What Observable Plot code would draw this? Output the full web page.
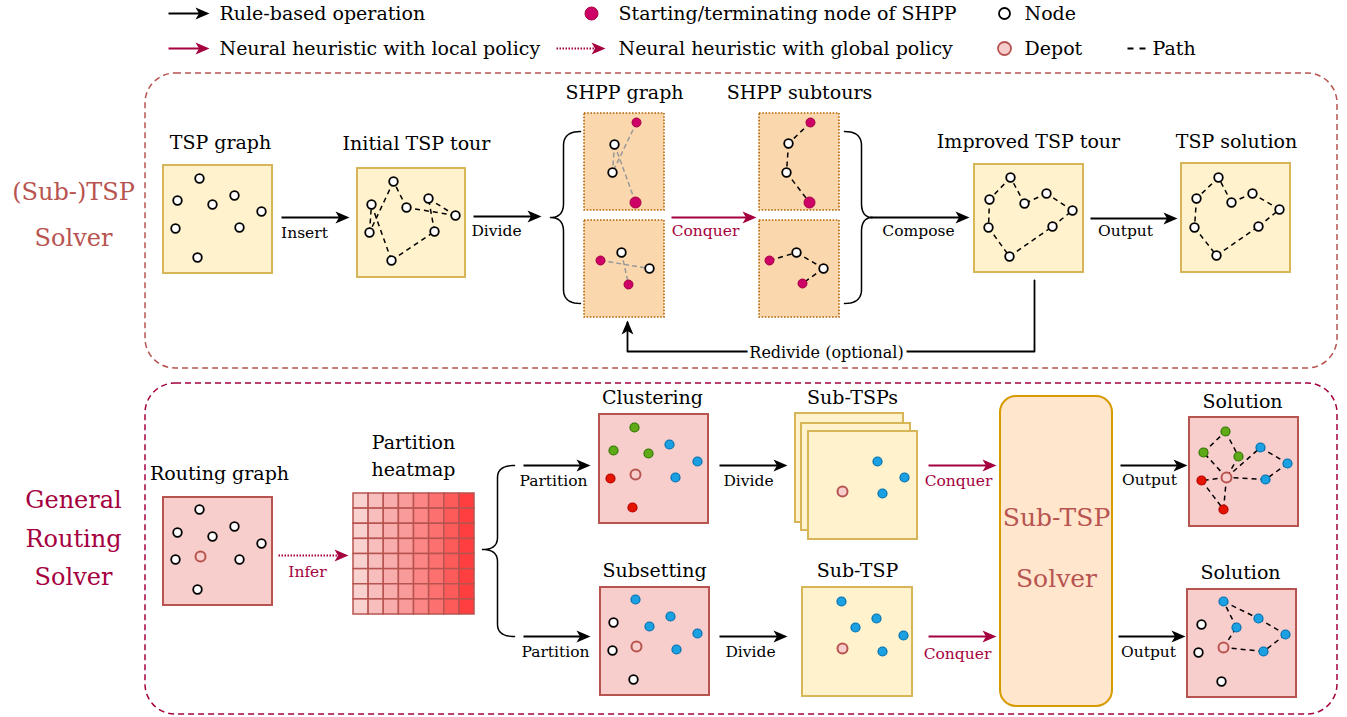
<!DOCTYPE html>
<html><head><meta charset="utf-8">
<script src="https://cdn.jsdelivr.net/npm/d3@7"></script>
<script src="https://cdn.jsdelivr.net/npm/@observablehq/plot@0.6"></script>
<style>body{margin:0;background:#fff}</style>
</head><body><div id="chart"></div>
<script>
const W = 1347, H = 717;
const FONT = "'DejaVu Serif', 'Liberation Serif', serif";
const STYLE = {
  tsp: {fill: "#fff2cc", stroke: "#d6b656"},
  route: {fill: "#f8cecc", stroke: "#b85450"},
  shpp: {fill: "#fad7ac", stroke: "#b46504"},
  crimson: "#a50040", brown: "#b85450",
  node: {fill: "#ffffff", stroke: "#000000"},
  magenta: {fill: "#cc0066", stroke: "#a50040"},
  depot: {fill: "#f8cecc", stroke: "#b85450"},
  green: {fill: "#60a917", stroke: "#2d7600"},
  blue: {fill: "#1ba1e2", stroke: "#006eaf"},
  red: {fill: "#e51400", stroke: "#b20000"}
};

// ---------- data ----------
const frames = [
  {x1: 145, y1: 73, x2: 1337, y2: 368, color: "#b85450"},
  {x1: 145, y1: 383, x2: 1337, y2: 714, color: "#a50040"}
];
const panels = [
  {kind: "tsp", x1: 163, y1: 165, x2: 272, y2: 273},
  {kind: "tsp", x1: 357, y1: 168, x2: 465, y2: 277},
  {kind: "tsp", x1: 974, y1: 164, x2: 1083, y2: 272},
  {kind: "tsp", x1: 1181, y1: 163, x2: 1290, y2: 272},
  {kind: "route", x1: 163, y1: 497, x2: 272, y2: 605},
  {kind: "route", x1: 599, y1: 414, x2: 708, y2: 523},
  {kind: "tsp", x1: 795, y1: 413, x2: 903, y2: 522},
  {kind: "tsp", x1: 801, y1: 423, x2: 910, y2: 530},
  {kind: "tsp", x1: 808, y1: 431, x2: 917, y2: 539},
  {kind: "route", x1: 600, y1: 587, x2: 709, y2: 695},
  {kind: "tsp", x1: 802, y1: 587, x2: 912, y2: 696},
  {kind: "route", x1: 1189, y1: 417, x2: 1298, y2: 526},
  {kind: "route", x1: 1187, y1: 589, x2: 1296, y2: 697}
];
const shppPanels = [
  {x1: 584, y1: 113, x2: 664, y2: 210},
  {x1: 584, y1: 220, x2: 664, y2: 317},
  {x1: 759, y1: 113, x2: 839, y2: 210},
  {x1: 759, y1: 220, x2: 839, y2: 317}
];
const solverBox = {x1: 1000, y1: 396, x2: 1112, y2: 706};

const heatmap = {x1: 353, y1: 493, x2: 474, y2: 614, rows: 8};
const heatColors = ["#f9d2cf", "#f8bebe", "#f8adac", "#f99b9a", "#fb8685", "#fc7170", "#fd5a5a", "#ff3f3f"];

// tours (closed)
const initialTour = [[393,181],[369,232],[371,204],[391,260],[434,231],[428,198],[455,215],[406,207]];
const improvedTour = [[1010,177],[989,199],[988,227],[1009,256],[1052,226],[1072,210],[1046,193],[1024,203]];
const solutionTour = [[1218,177],[1196,198],[1194,227],[1216,255],[1258,226],[1279,209],[1252,193],[1231,202]];
const tspGraphNodes = [[199,178],[177,200],[212,204],[234,195],[261,211],[175,228],[239,227],[197,257]];
// SHPP
const shppGrayEdges = [
  [[636,122],[612,172]], [[614,144],[635,202]], [[614,144],[612,172]],
  [[600,260],[649,268]], [[621,252],[628,284]]
];
const shppGraphWhite = [[614,144],[612,172],[621,252],[649,268]];
const shppGraphMagenta = [[636,122],[628,284],[600,260]];
const shppGraphMagentaBig = [[635,202]];
const shppSubtours = [
  [[810,122],[788,143],[786,172],[809,202]],
  [[769,260],[796,252],[823,268],[802,283]]
];
// routing
const routingNodes = [[199,509],[177,532],[212,536],[234,526],[261,543],[175,559],[239,559],[197,589]];
const routingDepot = [[200,556]];
// clustering
const clusterGreen = [[634,427],[613,450],[648,453]];
const clusterBlue = [[669,444],[697,461],[675,477]];
const clusterRed = [[610,478],[632,507]];
const clusterDepot = [[635,474]];
const subTspsBlue = [[877,461],[904,477],[882,493]];
const subTspsDepot = [[842,491]];
// subsetting
const subsetBlue = [[635,599],[649,626],[670,616],[697,633],[676,649]];
const subsetWhite = [[613,622],[612,650],[633,679]];
const subsetDepot = [[636,646]];
const subTspBlue = [[841,601],[876,618],[855,627],[903,635],[882,651]];
const subTspDepot = [[842,648]];
// solutions
const sol1Green = [[1225,431],[1203,452],[1238,456]];
const sol1Blue = [[1260,447],[1287,463],[1265,479]];
const sol1Red = [[1201,480],[1223,509]];
const sol1Depot = [[1226,477]];
const sol1Routes = [
  [[1226,477],[1203,452],[1225,431],[1238,456],[1226,477]],
  [[1226,477],[1260,447],[1287,463],[1265,479],[1226,477]],
  [[1226,477],[1201,480],[1223,509],[1226,477]]
];
const sol2Blue = [[1223,601],[1258,618],[1236,627],[1285,634],[1263,651]];
const sol2White = [[1201,624],[1198,652],[1221,681]];
const sol2Depot = [[1223,647]];
const sol2Routes = [[[1223,647],[1236,627],[1223,601],[1258,618],[1285,634],[1263,651],[1223,647]]];

// arrows: from (x1,y) to tip x2
const arrows = [
  {x1: 168, x2: 209, y: 13, color: "#000"},
  {x1: 168, x2: 209, y: 48, color: "#a50040"},
  {x1: 281, x2: 349, y: 217, color: "#000"},
  {x1: 473, x2: 541, y: 216, color: "#000"},
  {x1: 671, x2: 756, y: 217, color: "#a50040"},
  {x1: 870, x2: 969, y: 217, color: "#000"},
  {x1: 1090, x2: 1177, y: 218, color: "#000"},
  {x1: 523, x2: 590, y: 465, color: "#000"},
  {x1: 523, x2: 590, y: 636, color: "#000"},
  {x1: 719, x2: 787, y: 465, color: "#000"},
  {x1: 719, x2: 787, y: 636, color: "#000"},
  {x1: 928, x2: 996, y: 465, color: "#a50040"},
  {x1: 928, x2: 996, y: 636, color: "#a50040"},
  {x1: 1120, x2: 1187, y: 465, color: "#000"},
  {x1: 1118, x2: 1185, y: 636, color: "#000"}
];
const dottedArrows = [
  {x1: 556, x2: 605, y: 48},
  {x1: 278, x2: 348, y: 555}
];
const redividePath = [[1034,280],[1034,351],[627,351],[627,322]];
const redivideTip = [[627,320]];
const braces = [
  {tipX: 580, vx: 563, noseX: 550, y1: 131, ym: 217, y2: 303, k: 14},
  {tipX: 844, vx: 861, noseX: 872, y1: 131, ym: 217, y2: 303, k: 14},
  {tipX: 514, vx: 497, noseX: 482, y1: 465, ym: 549, y2: 636, k: 12}
];

// text
const titles = [
  {x: 220, y: 142, t: "TSP graph"},
  {x: 416, y: 143, t: "Initial TSP tour"},
  {x: 624, y: 92, t: "SHPP graph"},
  {x: 799, y: 92, t: "SHPP subtours"},
  {x: 1028, y: 141, t: "Improved TSP tour"},
  {x: 1236, y: 141, t: "TSP solution"},
  {x: 219, y: 473, t: "Routing graph"},
  {x: 413, y: 442, t: "Partition"},
  {x: 413, y: 469, t: "heatmap"},
  {x: 652, y: 397, t: "Clustering"},
  {x: 852, y: 397, t: "Sub-TSPs"},
  {x: 654, y: 570, t: "Subsetting"},
  {x: 857, y: 570, t: "Sub-TSP"},
  {x: 1242, y: 401, t: "Solution"},
  {x: 1240, y: 572, t: "Solution"}
];
const arrowLabels = [
  {x: 304, y: 233, t: "Insert", c: "#000"},
  {x: 496, y: 231, t: "Divide", c: "#000"},
  {x: 705, y: 231, t: "Conquer", c: "#a50040"},
  {x: 918, y: 231, t: "Compose", c: "#000"},
  {x: 1125, y: 231, t: "Output", c: "#000"},
  {x: 307, y: 572, t: "Infer", c: "#a50040"},
  {x: 553, y: 481, t: "Partition", c: "#000"},
  {x: 555, y: 652, t: "Partition", c: "#000"},
  {x: 748, y: 481, t: "Divide", c: "#000"},
  {x: 750, y: 652, t: "Divide", c: "#000"},
  {x: 958, y: 481, t: "Conquer", c: "#a50040"},
  {x: 957, y: 654, t: "Conquer", c: "#a50040"},
  {x: 1149, y: 480, t: "Output", c: "#000"},
  {x: 1148, y: 652, t: "Output", c: "#000"}
];
const redivideLabel = [{x: 826, y: 352, t: "Redivide (optional)"}];
const legendTexts = [
  {x: 219, y: 13, t: "Rule-based operation"},
  {x: 219, y: 48, t: "Neural heuristic with local policy"},
  {x: 618, y: 13, t: "Starting/terminating node of SHPP"},
  {x: 618, y: 48, t: "Neural heuristic with global policy"},
  {x: 1024, y: 13, t: "Node"},
  {x: 1024, y: 48, t: "Depot"},
  {x: 1152, y: 48, t: "Path"}
];
const legendMagenta = [[591,13]];
const legendNode = [[1004,13]];
const legendDepot = [[1004,48]];
const legendPath = [{x1: 1127, x2: 1145, y: 48}];
const sideLabels = [
  {x: 73, y: 192, t: "(Sub-)TSP", c: "#b85450"},
  {x: 73, y: 238, t: "Solver", c: "#b85450"},
  {x: 73, y: 500, t: "General", c: "#a50040"},
  {x: 73, y: 539, t: "Routing", c: "#a50040"},
  {x: 73, y: 577, t: "Solver", c: "#a50040"}
];
const solverLabels = [
  {x: 1056, y: 517, t: "Sub-TSP"},
  {x: 1056, y: 578, t: "Solver"}
];

// ---------- helpers ----------
function closedEdges(tour) {
  return tour.map((p, i) => [p, tour[(i + 1) % tour.length]]);
}
function openEdges(path) {
  return path.slice(1).map((p, i) => [path[i], p]);
}
function quad(p0, c, p1, n = 10) {
  const out = [];
  for (let i = 1; i <= n; i++) {
    const t = i / n, u = 1 - t;
    out.push([u*u*p0[0] + 2*u*t*c[0] + t*t*p1[0], u*u*p0[1] + 2*u*t*c[1] + t*t*p1[1]]);
  }
  return out;
}
function bracePoints(b, id) {
  const pts = [[b.tipX, b.y1]];
  pts.push(...quad([b.tipX, b.y1], [b.vx, b.y1], [b.vx, b.y1 + b.k]));
  pts.push([b.vx, b.ym - b.k]);
  pts.push(...quad([b.vx, b.ym - b.k], [b.vx, b.ym], [b.noseX, b.ym]));
  pts.push(...quad([b.noseX, b.ym], [b.vx, b.ym], [b.vx, b.ym + b.k]));
  pts.push([b.vx, b.y2 - b.k]);
  pts.push(...quad([b.vx, b.y2 - b.k], [b.vx, b.y2], [b.tipX, b.y2]));
  return pts.map(p => ({x: p[0], y: p[1], id}));
}
const headRight = {draw(ctx, size) {
  const r = Math.sqrt(size / Math.PI);
  ctx.moveTo(0, 0); ctx.lineTo(-2 * r, -0.85 * r); ctx.lineTo(-1.5 * r, 0); ctx.lineTo(-2 * r, 0.85 * r); ctx.closePath();
}};
const headUp = {draw(ctx, size) {
  const r = Math.sqrt(size / Math.PI);
  ctx.moveTo(0, 0); ctx.lineTo(-0.85 * r, 2 * r); ctx.lineTo(0, 1.5 * r); ctx.lineTo(0.85 * r, 2 * r); ctx.closePath();
}};
const linkOpts = {x1: d => d[0][0], y1: d => d[0][1], x2: d => d[1][0], y2: d => d[1][1]};
function nodes(data, st, r, sw) {
  return Plot.dot(data, {x: d => d[0], y: d => d[1], r, fill: st.fill, stroke: st.stroke, strokeWidth: sw});
}

// heat cells
const heatCells = [];
const cw = (heatmap.x2 - heatmap.x1) / heatColors.length, ch = (heatmap.y2 - heatmap.y1) / heatmap.rows;
for (let r = 0; r < heatmap.rows; r++) heatColors.forEach((c, i) => heatCells.push({
  x1: heatmap.x1 + i * cw, x2: heatmap.x1 + (i + 1) * cw, y1: heatmap.y1 + r * ch, y2: heatmap.y1 + (r + 1) * ch, c
}));

const pathEdges = [
  ...closedEdges(initialTour), ...closedEdges(improvedTour), ...closedEdges(solutionTour),
  ...shppSubtours.flatMap(openEdges), ...sol1Routes.flatMap(openEdges), ...sol2Routes.flatMap(openEdges)
];
const braceData = braces.flatMap((b, i) => bracePoints(b, i));
const redivideData = redividePath.map(p => ({x: p[0], y: p[1]}));

const plot = Plot.plot({
  width: W, height: H, margin: 0,
  x: {domain: [0, W], range: [0, W], axis: null},
  y: {domain: [0, H], range: [0, H], axis: null},
  color: {type: "identity"},
  style: {background: "white", fontFamily: FONT},
  marks: [
    Plot.rect(frames, {x1: "x1", y1: "y1", x2: "x2", y2: "y2", rx: 30, fill: "none", stroke: "color", strokeWidth: 1.5, strokeDasharray: "6,4"}),
    Plot.rect(panels, {x1: "x1", y1: "y1", x2: "x2", y2: "y2", fill: d => STYLE[d.kind].fill, stroke: d => STYLE[d.kind].stroke, strokeWidth: 2}),
    Plot.rect(shppPanels, {x1: "x1", y1: "y1", x2: "x2", y2: "y2", fill: STYLE.shpp.fill, stroke: STYLE.shpp.stroke, strokeWidth: 1.6, strokeDasharray: "1.6,1.6"}),
    Plot.rect([solverBox], {x1: "x1", y1: "y1", x2: "x2", y2: "y2", rx: 16, fill: "#ffe6cc", stroke: "#d79b00", strokeWidth: 2}),
    Plot.rect(heatCells, {x1: "x1", y1: "y1", x2: "x2", y2: "y2", fill: "c", stroke: "#b85450", strokeWidth: 1.5}),
    // edges
    Plot.link(shppGrayEdges, {...linkOpts, stroke: "#999999", strokeWidth: 1.5, strokeDasharray: "5,3"}),
    Plot.link(pathEdges, {...linkOpts, stroke: "#000", strokeWidth: 1.5, strokeDasharray: "5,4"}),
    // braces and connectors
    Plot.line(braceData, {x: "x", y: "y", z: "id", stroke: "#000", strokeWidth: 1.5}),
    Plot.line(redivideData, {x: "x", y: "y", stroke: "#000", strokeWidth: 1.8}),
    Plot.dot(redivideTip, {x: d => d[0], y: d => d[1], r: 7, symbol: headUp, fill: "#000", stroke: "none"}),
    // arrows
    Plot.link(arrows, {x1: "x1", x2: d => d.x2 - 8, y1: "y", y2: "y", stroke: "color", strokeWidth: 2}),
    Plot.dot(arrows, {x: "x2", y: "y", r: 7, symbol: headRight, fill: "color", stroke: "none"}),
    Plot.link(dottedArrows, {x1: "x1", x2: d => d.x2 - 8, y1: "y", y2: "y", stroke: STYLE.crimson, strokeWidth: 2, strokeDasharray: "1.5,1.5"}),
    Plot.dot(dottedArrows, {x: "x2", y: "y", r: 7, symbol: headRight, fill: STYLE.crimson, stroke: "none"}),
    // nodes
    nodes(tspGraphNodes, STYLE.node, 4.3, 1.8),
    nodes(initialTour, STYLE.node, 4.3, 1.8),
    nodes(improvedTour, STYLE.node, 4.3, 1.8),
    nodes(solutionTour, STYLE.node, 4.3, 1.8),
    nodes(shppGraphWhite, STYLE.node, 4.3, 1.8),
    nodes(shppSubtours.flatMap(p => [p[1], p[2]]), STYLE.node, 4.3, 1.8),
    nodes(shppGraphMagenta, STYLE.magenta, 4.5, 1),
    nodes(shppGraphMagentaBig, STYLE.magenta, 5.5, 1),
    nodes(shppSubtours.map(p => p[0]), STYLE.magenta, 4.5, 1),
    nodes([shppSubtours[0][3]], STYLE.magenta, 5.5, 1),
    nodes([shppSubtours[1][3]], STYLE.magenta, 4.5, 1),
    nodes(routingNodes, STYLE.node, 4.3, 1.8),
    nodes(routingDepot, STYLE.depot, 5, 2),
    nodes(clusterGreen, STYLE.green, 4.5, 1.2),
    nodes(clusterBlue, STYLE.blue, 4.5, 1.2),
    nodes(clusterRed, STYLE.red, 4.5, 1.2),
    nodes(clusterDepot, STYLE.depot, 5, 2),
    nodes(subTspsBlue, STYLE.blue, 4.5, 1.2),
    nodes(subTspsDepot, STYLE.depot, 5, 2),
    nodes(subsetBlue, STYLE.blue, 4.5, 1.2),
    nodes(subsetWhite, STYLE.node, 4.3, 1.8),
    nodes(subsetDepot, STYLE.depot, 5, 2),
    nodes(subTspBlue, STYLE.blue, 4.5, 1.2),
    nodes(subTspDepot, STYLE.depot, 5, 2),
    nodes(sol1Green, STYLE.green, 4.5, 1.2),
    nodes(sol1Blue, STYLE.blue, 4.5, 1.2),
    nodes(sol1Red, STYLE.red, 4.5, 1.2),
    nodes(sol1Depot, STYLE.depot, 5, 2),
    nodes(sol2Blue, STYLE.blue, 4.5, 1.2),
    nodes(sol2White, STYLE.node, 4.3, 1.8),
    nodes(sol2Depot, STYLE.depot, 5, 2),
    // legend
    nodes(legendMagenta, STYLE.magenta, 6.5, 1),
    nodes(legendNode, STYLE.node, 5.5, 1.8),
    nodes(legendDepot, STYLE.depot, 6.5, 1.8),
    Plot.link(legendPath, {x1: "x1", x2: "x2", y1: "y", y2: "y", stroke: "#000", strokeWidth: 1.8, strokeDasharray: "6,6"}),
    Plot.text(legendTexts, {x: "x", y: "y", text: "t", textAnchor: "start", fontSize: 19, fontFamily: FONT, fill: "#000"}),
    // text
    Plot.text(titles, {x: "x", y: "y", text: "t", fontSize: 19, fontFamily: FONT, fill: "#000"}),
    Plot.text(arrowLabels, {x: "x", y: "y", text: "t", fontSize: 15.5, fontFamily: FONT, fill: "c"}),
    Plot.text(redivideLabel, {x: "x", y: "y", text: "t", fontSize: 16, fontFamily: FONT, fill: "#000", stroke: "white", strokeWidth: 8, paintOrder: "stroke"}),
    Plot.text(sideLabels, {x: "x", y: "y", text: "t", fontSize: 24, fontFamily: FONT, fill: "c"}),
    Plot.text(solverLabels, {x: "x", y: "y", text: "t", fontSize: 25, fontFamily: FONT, fill: "#b85450"})
  ]
});
document.getElementById("chart").appendChild(plot);
</script></body></html>
